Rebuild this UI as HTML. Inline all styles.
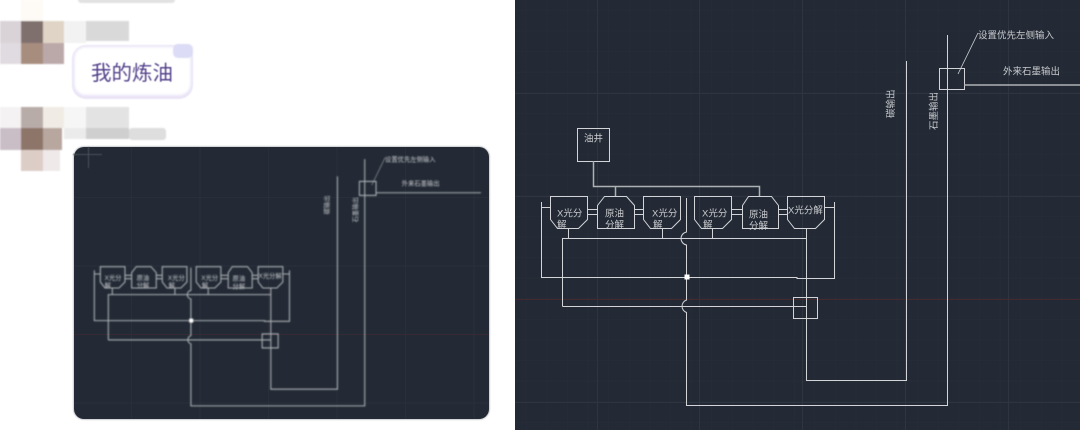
<!DOCTYPE html>
<html><head><meta charset="utf-8"><style>
html,body{margin:0;padding:0;background:#fff}
svg{display:block}
text{font-family:"Liberation Sans","Noto Sans CJK SC",sans-serif;fill:#c8cacd;font-size:9.5px}
</style></head><body>
<svg width="1080" height="430" viewBox="0 0 1080 430" xmlns="http://www.w3.org/2000/svg">
<defs>
<filter id="b03" x="-5%" y="-5%" width="110%" height="110%"><feGaussianBlur stdDeviation="0.3"/></filter>
<filter id="b05" x="-20%" y="-20%" width="140%" height="140%"><feGaussianBlur stdDeviation="0.55"/></filter>
<filter id="b1" x="-10%" y="-10%" width="120%" height="120%"><feGaussianBlur stdDeviation="0.9"/></filter>
<filter id="b2" x="-20%" y="-20%" width="140%" height="140%"><feGaussianBlur stdDeviation="1.3"/></filter>
<pattern id="minor" width="20.6" height="20.6" patternUnits="userSpaceOnUse" x="-9" y="-10">
<path d="M20.6 0V20.6H0" fill="none" stroke="#272e39" stroke-width="1"/></pattern>
<g id="lines" fill="none">
<path d="M550.5 196.500H587.500V219.500L578.500 228.500H557.500L550.500 219.500Z"/>
<path d="M597.500 205.500L604.500 196.500H626.500L634.500 205.500V228.500H597.500Z"/>
<path d="M643.500 196.500H680.500V219.500L671.500 228.500H650.500L643.500 219.500Z"/>
<path d="M694.500 196.500H731.500V219.500L722.500 228.500H701.500L694.500 219.500Z"/>
<path d="M742.500 205.500L748.500 196.500H771.500L778.500 205.500V228.500H742.500Z"/>
<path d="M787.500 196.500H824.500V219.500L815.500 228.500H794.500L787.500 219.500Z"/>
<path d="M587 209.500H597M587 214.500H597M634 209.500H643M634 214.500H643M731 209.500H742M731 214.500H742M778 209.500H787M778 214.500H787"/>
<path d="M568.500 228V238.500M662.500 228V238.500M712.500 228V238.500M806.500 228V238.500"/>
<path d="M562.500 306.500V238.500H806.500M562.500 306.500H806.500"/>
<path d="M541.500 202V277.500H723M541.500 207.500H550M723 277.500H797L797 278.500H834.500V202M824 207.500H834.500"/>
<path d="M686.500 198V232A6.600 6.600 0 0 0 686.500 245V300A6.600 6.600 0 0 0 686.500 312.500V405.500H947.500V35"/>
<path d="M806.500 238V380.500H906.500V61"/>
<path d="M793.500 297.500H817.500V318.500H793.500Z"/>
<path d="M939.500 68.500H964.500V89.500H939.500Z"/>
<path d="M958 74L978 33" stroke-width=".8"/>
</g>
</defs>
<rect width="515" height="430" fill="#fff"/>

<!-- chat mosaics -->
<g filter="url(#b1)">
<rect x="78" y="-4" width="97" height="7" rx="3" fill="#e2e2e2"/>
<rect x="21" y="0" width="22" height="21" fill="#fefbf6"/>
<rect x="0" y="21" width="21" height="22" fill="#d9d3d8"/>
<rect x="21" y="21" width="22" height="22" fill="#80706d"/>
<rect x="43" y="21" width="21" height="22" fill="#e0d4c6"/>
<rect x="64" y="21" width="22" height="22" fill="#f2f2f2"/>
<rect x="86" y="21" width="43" height="20" fill="#d9d9d9"/>
<rect x="0" y="43" width="21" height="21" fill="#e0dbe0"/>
<rect x="21" y="43" width="22" height="21" fill="#a78d7e"/>
<rect x="43" y="43" width="21" height="21" fill="#bba9aa"/>
<rect x="0" y="107" width="21" height="21" fill="#f4f2f2"/>
<rect x="21" y="107" width="22" height="21" fill="#b8aca8"/>
<rect x="43" y="107" width="21" height="21" fill="#f0ebe4"/>
<rect x="64" y="107" width="22" height="21" fill="#f6f6f6"/>
<rect x="86" y="107" width="43" height="21" fill="#e3e3e3"/>
<rect x="0" y="128" width="21" height="22" fill="#c9bec6"/>
<rect x="21" y="128" width="22" height="22" fill="#8d7669"/>
<rect x="43" y="128" width="19" height="22" fill="#b8a79f"/>
<rect x="64" y="128" width="22" height="11" fill="#ebebeb"/>
<rect x="86" y="128" width="43" height="11" fill="#cfcfcf"/>
<rect x="129" y="128" width="37" height="12" rx="3" fill="#dedede"/>
<rect x="21" y="150" width="22" height="21" fill="#ddcdc7"/>
<rect x="43" y="150" width="17" height="21" fill="#efe9ea"/>
</g>

<!-- bubble -->
<rect x="72" y="45" width="121" height="54" rx="14" fill="#e9e4f6" filter="url(#b05)"/>
<rect x="74.500" y="47" width="116" height="48" rx="11" fill="#fff" filter="url(#b2)"/>
<rect x="173" y="44" width="20" height="14" rx="5" fill="#dcdcf6" filter="url(#b1)"/>
<text x="132" y="80" text-anchor="middle" style="font-size:20.500px;fill:#54438c" filter="url(#b05)">我的炼油</text>

<!-- small dark panel -->
<rect x="73" y="146" width="417" height="274" rx="11" fill="#c9cbce" filter="url(#b05)"/>
<rect x="74" y="147" width="415" height="272" rx="10" fill="#232a35"/>
<g stroke="#282f3a" fill="none">
<path d="M131.500 147V419M200 147V419M268.500 147V419M337 147V419M405.500 147V419M474 147V419M74 197.500H489M74 266H489M74 403H489"/>
</g>
<path d="M74 334.500H489" stroke="#352a33"/>
<path d="M73 154.500H102M88.500 147V168" stroke="#4a505a" filter="url(#b05)"/>
<g filter="url(#b1)">
<g transform="translate(-266.300 135.800) scale(.666)" stroke="#aeb2b6" stroke-width="1.600">
<use href="#lines"/>
<path d="M964 85.500H1122" fill="none"/>
<rect x="684" y="274.500" width="6" height="6" fill="#fff" stroke="none"/>
<g stroke="none">
<text x="557" y="216.500">X光分</text><text x="557" y="228">解</text>
<text x="605" y="216.500">原油</text><text x="605" y="228">分解</text>
<text x="652" y="216.500">X光分</text><text x="653" y="228">解</text>
<text x="702" y="216.500">X光分</text><text x="703" y="228">解</text>
<text x="749" y="217.500">原油</text><text x="749" y="229">分解</text>
<text x="788" y="213.500">X光分解</text>
<text x="978" y="38.500">设置优先左侧输入</text>
<text x="1003" y="74.500">外来石墨输出</text>
<text transform="translate(894 118) rotate(-90)">碳输出</text>
<text transform="translate(937 130) rotate(-90)">石墨输出</text>
</g>
</g>
</g>

<!-- main CAD panel -->
<rect x="515" y="0" width="565" height="430" fill="#232a35"/>
<rect x="515" y="0" width="565" height="430" fill="url(#minor)"/>
<path d="M597.500 0V430M699.500 0V430M802.500 0V430M905.500 0V430M1008.500 0V430M515 93.500H1080M515 196.500H1080M515 402.500H1080" stroke="#2e3541" fill="none"/>
<path d="M515 299.500H1080" stroke="#44292f"/>
<g filter="url(#b03)">
<g stroke="#d2d4d7" stroke-width="1">
<use href="#lines"/>
<path d="M577.500 128.500H609.500V161.500H577.500Z" fill="none"/>
</g>
<path d="M593.500 161V186.500H759.500V196M615.500 186.500V196" stroke-width="1.500" stroke="#aeb1b4" fill="none"/>
<path d="M964 85H1080" stroke="#aeb1b4" stroke-width="1.600" fill="none"/>
<rect x="684.500" y="274.500" width="5" height="5" fill="#fff"/>
<text x="593.500" y="141.500" text-anchor="middle">油井</text>
<text x="557" y="216.500">X光分</text><text x="557" y="228">解</text>
<text x="605" y="216.500">原油</text><text x="605" y="228">分解</text>
<text x="652" y="216.500">X光分</text><text x="653" y="228">解</text>
<text x="702" y="216.500">X光分</text><text x="703" y="228">解</text>
<text x="749" y="217.500">原油</text><text x="749" y="229">分解</text>
<text x="788" y="213.500">X光分解</text>
<text x="978" y="38.500">设置优先左侧输入</text>
<text x="1003" y="74.500">外来石墨输出</text>
<text transform="translate(894 118) rotate(-90)">碳输出</text>
<text transform="translate(937 130) rotate(-90)">石墨输出</text>
</g>
</svg>
</body></html>
